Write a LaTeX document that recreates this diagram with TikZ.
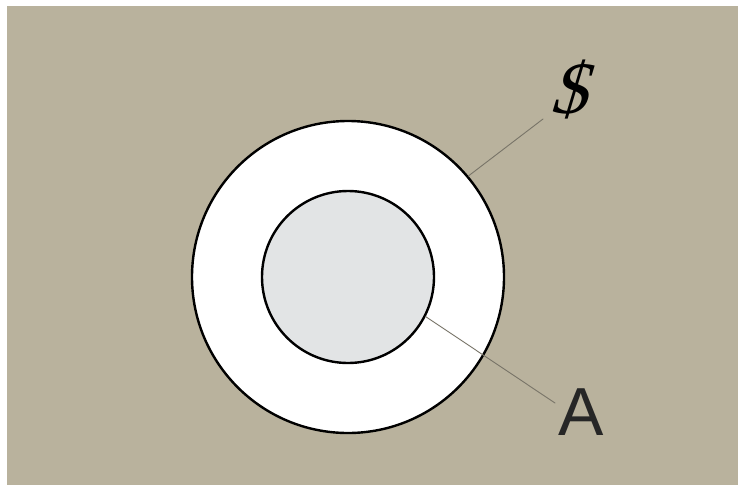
\documentclass[tikz,border=0pt]{standalone}
\usepackage{fontspec}
\setmainfont{Liberation Sans}
\newfontfamily\signfont{Liberation Serif}
\definecolor{paper}{RGB}{185,178,157}
\definecolor{core}{RGB}{226,228,229}
\definecolor{leader}{RGB}{120,116,104}
\tikzset{
  ring/.style={circle, draw=black, line width=2.4pt, inner sep=0pt},
  tag/.style={inner sep=0pt, text=black!85}
}
\begin{document}
\begin{tikzpicture}[x=1pt, y=-1pt, line cap=round, line join=round]
\fill[white] (0,0) rectangle (738,485);
\fill[paper] (7,6) rectangle (738,485);
\node[ring, fill=white, minimum size=312pt] (outer) at (348,277) {};
\node[ring, fill=core, minimum size=172pt] (inner) at (348,277) {};
\node[tag, text=black, font=\signfont\fontsize{74}{74}\selectfont, xslant=0.3] (dollar) at (575,90) {\$};
\node[tag, font=\fontsize{68}{68}\selectfont] (A) at (581,412) {A};
\path (543,119)coordinate(dtip) (555,403)coordinate(atip);
\draw[leader, line width=0.9pt] (outer.40)--(dtip) (inner.-27)--(atip);
\end{tikzpicture}
\end{document}
